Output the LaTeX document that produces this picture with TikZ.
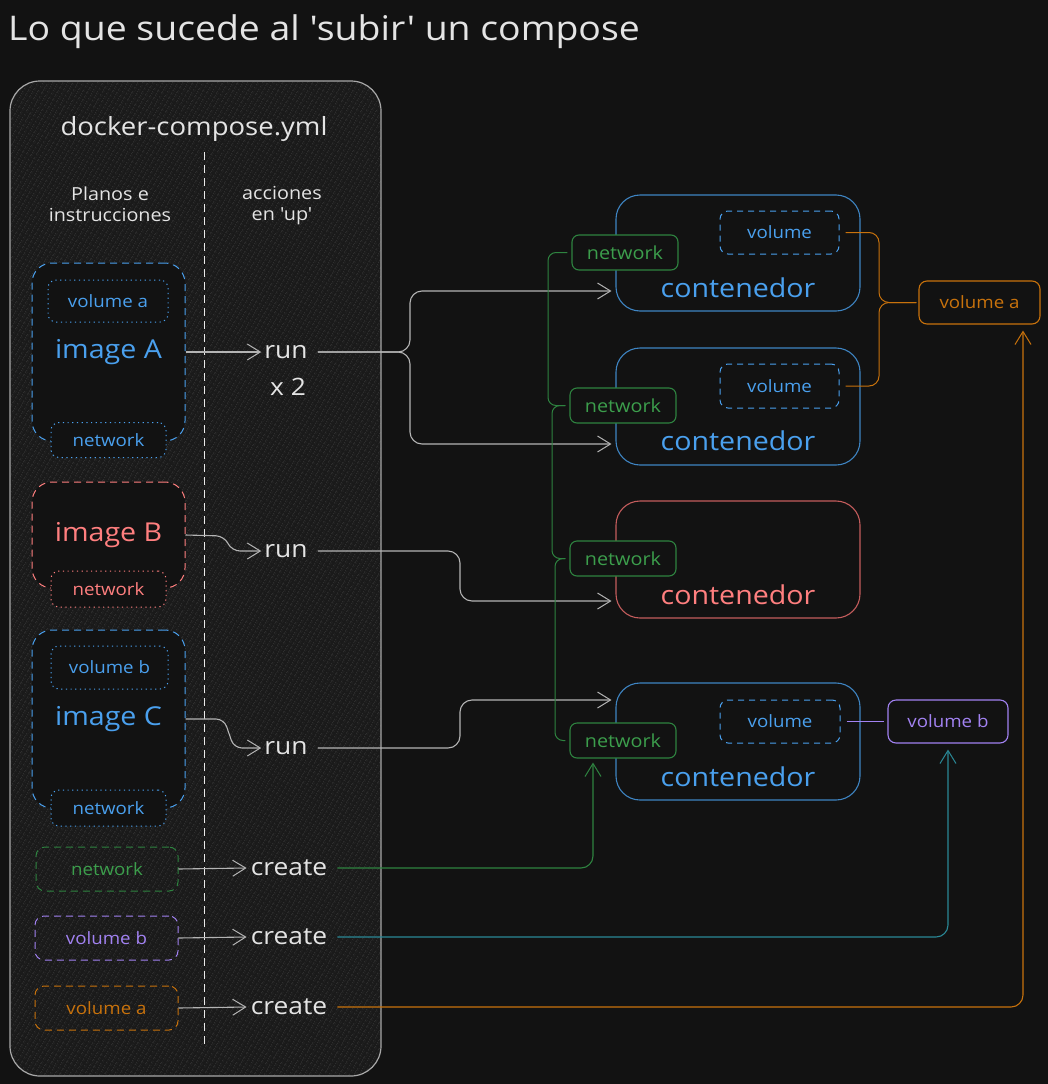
\documentclass[tikz,border=0pt]{standalone}
\usepackage{fontspec}
\setmainfont{Open Sans}[Ligatures=TeXOff, FakeStretch=1.1]
\usetikzlibrary{arrows.meta,patterns.meta}
\definecolor{bg}{HTML}{121212}
\definecolor{framefill}{HTML}{1A1A1A}
\definecolor{hatch}{HTML}{2A2A2A}
\definecolor{framestroke}{HTML}{A8A8A8}
\definecolor{txt}{HTML}{E4E4E4}
\definecolor{blu}{HTML}{4AA0EE}
\definecolor{bluD}{HTML}{3E84C2}
\definecolor{redT}{HTML}{FF7F7F}
\definecolor{redD}{HTML}{C45C5C}
\definecolor{grn}{HTML}{3C9E4C}
\definecolor{grnD}{HTML}{2E8340}
\definecolor{pur}{HTML}{A282F2}
\definecolor{org}{HTML}{C8720C}
\definecolor{teal}{HTML}{2A8896}
\definecolor{arrg}{HTML}{B4B4B4}
\tikzset{
  txtn/.style={text=txt, inner sep=0pt},
  imgbox/.style={rounded corners=20pt, line width=1pt, dash pattern=on 7pt off 5pt, fill=bg},
  dotbox/.style={rounded corners=8pt, line width=1pt, dash pattern=on 1.2pt off 3.5pt, fill=bg},
  defbox/.style={rounded corners=9pt, line width=1pt, dash pattern=on 7pt off 5pt},
  cont/.style={rounded corners=24pt, line width=1.1pt},
  volin/.style={rounded corners=8pt, line width=1pt, dash pattern=on 6pt off 5pt, draw=blu, text=blu, font=\fontsize{17}{17}\selectfont},
  netbox/.style={rounded corners=7pt, line width=1.1pt, draw=grnD, fill=bg, text=grn, font=\fontsize{18}{18}\selectfont, minimum width=106pt, minimum height=35pt},
  volbox/.style={rounded corners=8pt, line width=1.1pt, minimum width=121pt, minimum height=43pt, font=\fontsize{17}{17}\selectfont},
  arr/.style={-{Straight Barb[length=13pt,width=16pt,line width=1pt]}, line width=1.1pt},
  conn/.style={line width=1.1pt, rounded corners=12pt},
  big/.style={font=\fontsize{26}{26}\selectfont},
  act/.style={txtn, font=\fontsize{24}{24}\selectfont},
  small/.style={font=\fontsize{17}{17}\selectfont},
}
\begin{document}
\begin{tikzpicture}[x=1pt,y=-1pt]
\fill[bg] (0,0) rectangle (1048,1084);
\useasboundingbox (0,0) rectangle (1048,1084);

% title
\node[txtn, anchor=west, font=\fontsize{34}{34}\selectfont] (title) at (8,32) {Lo que sucede al 'subir' un compose};

% main frame
\node[draw=framestroke, line width=1.2pt, rounded corners=30pt, minimum width=371pt, minimum height=995pt,
  preaction={fill=framefill}, pattern={Lines[angle=60,distance=4pt,line width=0.5pt]}, pattern color=hatch] (frame) at (195.5,578.5) {};

\node[txtn, font=\fontsize{25}{25}\selectfont] (fname) at (194,129) {docker-compose.yml};
\coordinate (dtop) at (204,152);
\coordinate (dbot) at (204,1048);
\draw[txt!80, line width=1pt, dash pattern=on 8pt off 5pt] (dtop) -- (dbot);

\node[txtn, font=\fontsize{18}{21}\selectfont, align=center] (lplan) at (110,204) {Planos e\\instrucciones};
\node[txtn, font=\fontsize{18}{21}\selectfont, align=center] (lacc) at (282,206) {acciones\\en 'up'};

% image A
\node[imgbox, draw=blu, minimum width=153pt, minimum height=178pt, text=blu, big] (imgA) at (108.5,352) {image A};
\node[dotbox, draw=blu, minimum width=120pt, minimum height=42pt, text=blu, small] (volAin) at (108,301) {volume a};
\node[dotbox, draw=blu, minimum width=115pt, minimum height=35pt, text=blu, small] (netAin) at (108.5,440) {network};

% image B
\node[imgbox, draw=redT, minimum width=153pt, minimum height=106pt, text=redT, big] (imgB) at (108.5,535) {image B};
\node[dotbox, draw=redT, minimum width=115pt, minimum height=36pt, text=redT, small] (netBin) at (108.5,589) {network};

% image C
\node[imgbox, draw=blu, minimum width=153pt, minimum height=178pt, text=blu, big] (imgC) at (108.5,719) {image C};
\node[dotbox, draw=blu, minimum width=117pt, minimum height=43pt, text=blu, small] (volBin) at (109.5,667.5) {volume b};
\node[dotbox, draw=blu, minimum width=115pt, minimum height=36pt, text=blu, small] (netCin) at (108.5,808) {network};

% definitions
\node[defbox, draw=grnD, text=grn, minimum width=142pt, minimum height=44pt, small] (netdef) at (107,869) {network};
\node[defbox, draw=pur, text=pur, minimum width=143pt, minimum height=44pt, small] (volbdef) at (106.5,938) {volume b};
\node[defbox, draw=org, text=org, minimum width=143pt, minimum height=44pt, small] (voladef) at (106.5,1008) {volume a};

% actions
\node[act] (runA) at (286,352) {run};
\node[act] (x2) at (288,387) {x 2};
\node[act] (runB) at (286,551) {run};
\node[act] (runC) at (286,748) {run};
\node[act] (crN) at (289,868) {create};
\node[act] (crVb) at (289,937) {create};
\node[act] (crVa) at (289,1007) {create};

% containers
\node[cont, draw=bluD, minimum width=244pt, minimum height=116pt] (c1) at (738,253) {};
\node[cont, draw=bluD, minimum width=244pt, minimum height=117pt] (c2) at (738,406.5) {};
\node[cont, draw=redD, minimum width=244pt, minimum height=117pt] (c3) at (738,559.5) {};
\node[cont, draw=bluD, minimum width=244pt, minimum height=117pt] (c4) at (738,741.5) {};

\node[txtn, text=blu, big] (c1t) at (738,288) {contenedor};
\node[txtn, text=blu, big] (c2t) at (738,441) {contenedor};
\node[txtn, text=redT, big] (c3t) at (738,595) {contenedor};
\node[txtn, text=blu, big] (c4t) at (738,777) {contenedor};

\node[volin, minimum width=119pt, minimum height=43pt] (c1v) at (779.5,232.5) {volume};
\node[volin, minimum width=119pt, minimum height=44pt] (c2v) at (779.5,386) {volume};
\node[volin, minimum width=120pt, minimum height=43pt] (c4v) at (780,721.5) {volume};

\node[netbox] (c1n) at (625,252.5) {network};
\node[netbox] (c2n) at (623,405.5) {network};
\node[netbox] (c3n) at (623,558.5) {network};
\node[netbox] (c4n) at (623,740.5) {network};

\node[volbox, draw=org, text=org] (volA) at (979.5,302.5) {volume a};
\node[volbox, draw=pur, text=pur, minimum width=120pt] (volB) at (948,721.5) {volume b};

% arrows inside frame
\draw[arr, arrg] (imgA.east) -- ([xshift=-3pt]runA.west);
\draw[arr, arrg, rounded corners=8pt] (imgB.east) -- (224,536) -- (232,551) -- ([xshift=-3pt]runB.west);
\draw[arr, arrg, rounded corners=8pt] (imgC.east) -- (224,719) -- (234,748) -- ([xshift=-3pt]runC.west);
\draw[arr, arrg] (netdef.east) -- ([xshift=-4pt]crN.west);
\draw[arr, arrg] (volbdef.east) -- ([xshift=-4pt]crVb.west);
\draw[arr, arrg] (voladef.east) -- ([xshift=-4pt]crVa.west);

% run connectors
\coordinate (splitA) at (410,352);
\draw[arr, arrg, conn] ([xshift=10pt]runA.east) -- (splitA) |- ([xshift=-4pt,yshift=-38pt]c1.west);
\draw[arr, arrg, conn] ([xshift=10pt]runA.east) -- (splitA) |- ([xshift=-4pt,yshift=-37.5pt]c2.west);
\coordinate (bendB) at (460,551);
\draw[arr, arrg, conn] ([xshift=10pt]runB.east) -- (bendB) |- ([xshift=-4pt,yshift=-41.5pt]c3.west);
\coordinate (bendC) at (460,748);
\draw[arr, arrg, conn] ([xshift=10pt]runC.east) -- (bendC) |- ([xshift=-4pt,yshift=41.5pt]c4.west);

% create connectors
\coordinate (gN) at (593,868);
\draw[arr, grnD, conn] ([xshift=10pt]crN.east) -- (gN) -- ([yshift=-4pt]c4n.south -| gN);
\coordinate (gVb) at (948,937);
\draw[arr, teal, conn] ([xshift=10pt]crVb.east) -- (gVb) -- ([yshift=-6pt]volB.south);
\coordinate (gVa) at (1023,1007);
\draw[arr, org, conn] ([xshift=10pt]crVa.east) -- (gVa) -- ([yshift=-6pt]volA.south -| gVa);

% network chain
\draw[grnD, line width=1pt, rounded corners=8pt] ([xshift=-4pt]c1n.west) -- (548,252.5) -- (548,405.5) -- ([xshift=-4pt]c2n.west);
\draw[grnD, line width=1pt, rounded corners=8pt] ([xshift=-4pt]c2n.west) -- (552,405.5) -- (552,558.5) -- ([xshift=-4pt]c3n.west);
\draw[grnD, line width=1pt, rounded corners=8pt] ([xshift=-4pt]c3n.west) -- (555,558.5) -- (555,740.5) -- ([xshift=-4pt]c4n.west);

% volume connectors
\coordinate (braceA) at (879,302.5);
\draw[org, line width=1pt, rounded corners=10pt] ([xshift=6pt]c1v.east) -- (879,232.5) -- (braceA) -- ([xshift=-2pt]volA.west);
\draw[org, line width=1pt, rounded corners=10pt] ([xshift=6pt]c2v.east) -- (879,386) -- (braceA) -- ([xshift=-2pt]volA.west);
\draw[pur, line width=1pt] ([xshift=6pt]c4v.east) -- ([xshift=-3pt]volB.west);
\end{tikzpicture}
\end{document}
